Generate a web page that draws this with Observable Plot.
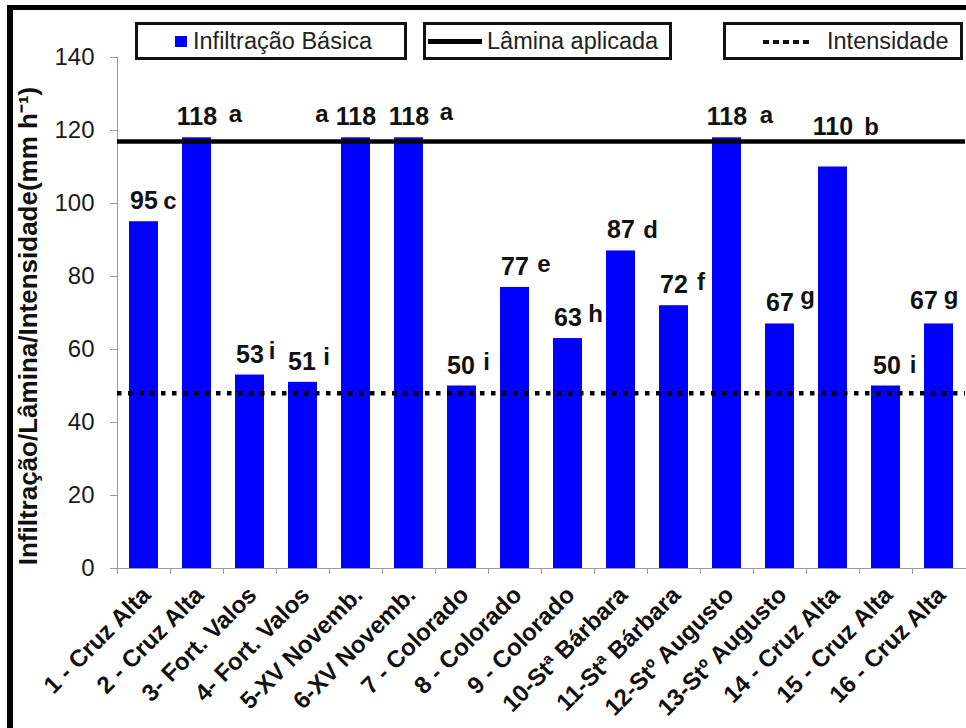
<!DOCTYPE html>
<html>
<head>
<meta charset="utf-8">
<script src="https://cdn.jsdelivr.net/npm/d3@7"></script>
<script src="https://cdn.jsdelivr.net/npm/@observablehq/plot@0.6"></script>
<style>
  body { margin: 0; background: #fff; font-family: Arial, "Liberation Sans", sans-serif; }
  #chart { position: relative; width: 966px; height: 728px; overflow: hidden; }
  #chart svg { position: absolute; left: 0; top: 0; }
  .rule-top { position: absolute; left: 7px; top: 5px; width: 959px; height: 5px; background: #000; }
  .rule-left { position: absolute; left: 7px; top: 5px; width: 6px; height: 723px; background: #000; }
  .key { position: absolute; top: 22px; height: 38px; box-sizing: border-box; border: 3px solid #111;
         background: #fff; font-size: 23.5px; color: #222; }
  .key span { position: absolute; top: 0; line-height: 32px; white-space: nowrap; }
  .swatch-bar { position: absolute; left: 37px; top: 11px; width: 12px; height: 11px; background: #0000ff; }
  .swatch-line { position: absolute; left: 2px; top: 14px; width: 54px; height: 5px; background: #000; }
  .swatch-dash { position: absolute; left: 37px; top: 15px; width: 47px; height: 4px;
                 background: repeating-linear-gradient(to right, #111 0 6px, transparent 6px 10px); }
</style>
</head>
<body>
<div id="chart">
  <div class="key" style="left:135px;width:272px"><div class="swatch-bar"></div><span style="left:55px">Infiltração Básica</span></div>
  <div class="key" style="left:423px;width:249px"><div class="swatch-line"></div><span style="left:61px">Lâmina aplicada</span></div>
  <div class="key" style="left:723px;width:240px"><div class="swatch-dash"></div><span style="left:101px">Intensidade</span></div>
  <div class="rule-top"></div>
  <div class="rule-left"></div>
</div>
<script>
// Sites (x categories)
const sites = [
  "1 - Cruz Alta", "2 - Cruz Alta", "3- Fort. Valos", "4- Fort. Valos",
  "5-XV Novemb.", "6-XV Novemb.", "7 - Colorado", "8 - Colorado",
  "9 - Colorado", "10-Stª Bárbara", "11-Stª Bárbara", "12-Stº Augusto",
  "13-Stº Augusto", "14 - Cruz Alta", "15 - Cruz Alta", "16 - Cruz Alta"
];
// Basic infiltration rate (mm h-1)
const infiltration = [95, 118, 53, 51, 118, 118, 50, 77, 63, 87, 72, 118, 67, 110, 50, 67];
// Mean-comparison letters
const groups = ["c", "a", "i", "i", "a", "a", "i", "e", "h", "d", "f", "a", "g", "b", "i", "g"];
// Reference levels (mm h-1)
const laminaAplicada = 117;
const intensidade = 48;
// Y tick values
const yTicks = [0, 20, 40, 60, 80, 100, 120, 140];

// Label placement around each bar top, in pixels [dx, dy]
const valueNudge = [
  [0, -12.5], [0, -12.5], [0, -12.5], [-1, -12.5], [0, -12.5], [0, -12.5], [-1, -12.5], [0, -12.5],
  [0, -13], [0, -12.5], [0, -12.5], [0, -12.5], [0, -13], [0, -32], [1, -12.5], [-15, -15]
];
const letterNudge = [
  [26, -12.3], [38.5, -15.6], [22, -16.5], [23.5, -17], [-34, -15.6], [37.5, -18.3], [24.5, -16.5], [29, -15],
  [27.5, -16.3], [29.5, -12.7], [27, -16], [39.5, -14.6], [27.5, -19.5], [38.5, -32.2], [27, -12.8], [12, -19.5]
];

const rows = sites.map((site, i) => ({site, value: infiltration[i], group: groups[i]}));
const font = "Arial, 'Liberation Sans', sans-serif";
const step = (966 - 1 - 117) / sites.length;

const valueLabels = rows.map((r, i) => Plot.text([r], {
  x: "site", y: "value", text: d => String(d.value),
  lineAnchor: "bottom", dx: valueNudge[i][0], dy: valueNudge[i][1],
  fontWeight: "bold", fontSize: 25, fill: "#111"
}));
const letterLabels = rows.map((r, i) => Plot.text([r], {
  x: "site", y: "value", text: "group",
  lineAnchor: "bottom", dx: letterNudge[i][0], dy: letterNudge[i][1],
  fontWeight: "bold", fontSize: 24, fill: "#111"
}));

const chart = Plot.plot({
  width: 966,
  height: 728,
  marginLeft: 117,
  marginRight: 1,
  marginTop: 57,
  marginBottom: 160,
  style: {fontFamily: font, background: "transparent", color: "#111", overflow: "visible"},
  x: {domain: sites, paddingInner: 0.453, paddingOuter: 0.2265, axis: null},
  y: {domain: [0, 140], axis: null},
  marks: [
    Plot.barY(rows, {x: "site", y: "value", fill: "#0000ff"}),
    Plot.frame({anchor: "left", stroke: "#9a9a9a"}),
    Plot.frame({anchor: "bottom", stroke: "#9a9a9a"}),
    Plot.axisY({ticks: yTicks, tickSize: 7, text: null, label: null, stroke: "#9a9a9a"}),
    Plot.axisY({ticks: yTicks, tickSize: 0, tickPadding: 23, label: null, fontSize: 24, fill: "#1a1a1a"}),
    Plot.axisX({tickSize: 6, text: null, label: null, stroke: "#9a9a9a", dx: -step / 2}),
    Plot.text(rows, {
      x: "site", frameAnchor: "bottom", text: "site", rotate: -45, textAnchor: "end",
      dx: 8, dy: 28, fontWeight: "bold", fontSize: 24, fill: "#111"
    }),
    Plot.ruleY([intensidade], {stroke: "#000", strokeWidth: 4.5, strokeDasharray: "4.5,6.5"}),
    Plot.ruleY([laminaAplicada], {stroke: "#000", strokeWidth: 4.5}),
    ...valueLabels,
    ...letterLabels,
    Plot.text(["Infiltração/Lâmina/Intensidade(mm h⁻¹)"], {
      frameAnchor: "left", textAnchor: "middle", rotate: -90, dx: -89, dy: 13,
      fontWeight: "bold", fontSize: 26, fill: "#111"
    })
  ]
});

document.getElementById("chart").prepend(chart);
</script>
</body>
</html>
